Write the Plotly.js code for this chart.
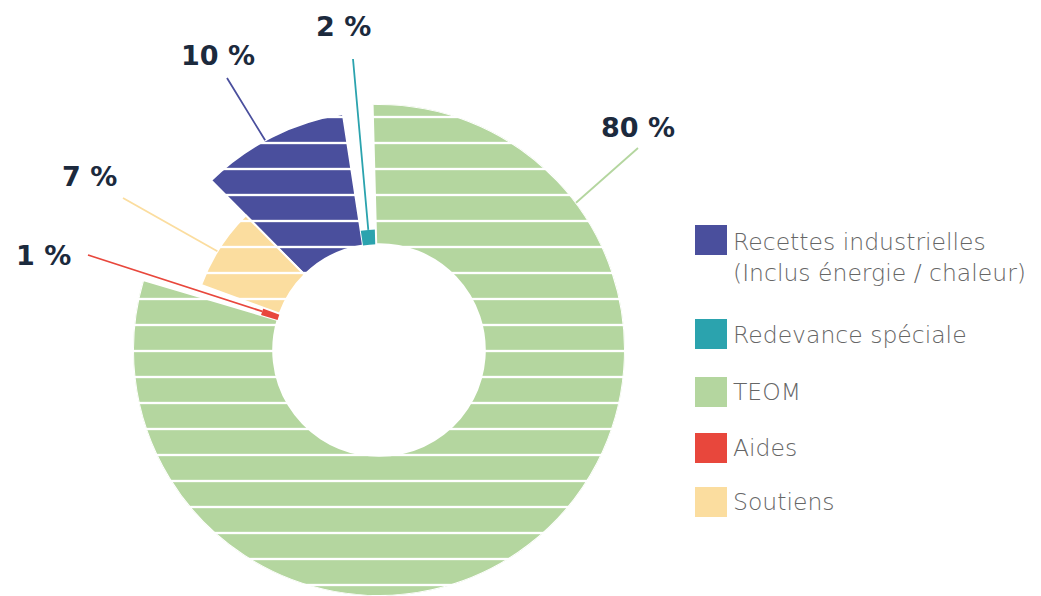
<!DOCTYPE html>
<html>
<head>
<meta charset="utf-8">
<script src="https://cdn.plot.ly/plotly-3.0.1.min.js"></script>
<style>
  html, body { margin: 0; padding: 0; background: #fff; }
  #graph { width: 1041px; height: 596px; }
</style>
</head>
<body>
<div id="graph"></div>
<script>
// data
const categories = ['Recettes industrielles', 'Redevance spéciale', 'TEOM', 'Aides', 'Soutiens'];
const legendLabels = ['Recettes industrielles<br>(Inclus énergie / chaleur)', 'Redevance spéciale', 'TEOM', 'Aides', 'Soutiens'];
const shares = [10, 2, 80, 1, 7];
const shareLabels = ['10 %', '2 %', '80 %', '1 %', '7 %'];
// outer radius of each slice, relative to the TEOM ring (= 100)
const outerRadius = [97, 49, 100, 50, 77];

const colors = ['#4a4f9d', '#2ba3ae', '#b4d69f', '#e8473c', '#fbdd9f'];
const textColor = '#1c2a3d';

const W = 1041, H = 596;
const holeRadius = 43;
const rotation = 134.7;            // where the first slice starts
const cx = 379, cy = 350, R = 246; // polar centre and radius in px

// where each leader line leaves its label (px), how the label sits on it,
// and where along its slice the line lands
const labelTail = [[227, 78], [353, 59], [638, 148], [88, 255], [123, 198]];
const labelAnchor = [['center', 'bottom'], ['center', 'bottom'], ['center', 'bottom'], ['right', 'middle'], ['right', 'bottom']];
const labelPad = [6, 16, 4, 16, 5];
const labelNudge = [2, 2, 0, 0, 0]; // trailing spaces pushing the text left of the line
const tipFrac = [0.45, 0.5, 0.19, 0.5, 0.45];

function px2paper(x, y) {
    return {x: x / W, y: 1 - y / H};
}

let cum = 0;
const traces = [];
const annotations = [];
const shapes = [];

categories.forEach((name, i) => {
    const width = shares[i] * 3.6;
    const start = cum;
    cum += width;

    const small = shares[i] < 5;
    traces.push({
        type: 'barpolar',
        name: name,
        r: [outerRadius[i] - holeRadius],
        base: [holeRadius],
        theta: [start + width / 2],
        width: [width],
        marker: {
            color: colors[i],
            line: {color: '#ffffff', width: small ? 0 : 2},
            pattern: small ? undefined : {shape: '-', fgcolor: '#ffffff', bgcolor: colors[i], size: 26, solidity: 0.09}
        },
        hovertemplate: name + ': ' + shares[i] + ' %<extra></extra>'
    });

    // leader line tip on the outer edge of the slice
    const a = (start + width * tipFrac[i] - (rotation - 90)) * Math.PI / 180;
    const rpx = R * outerRadius[i] / 100;
    const tx = cx + rpx * Math.sin(a);
    const ty = cy - rpx * Math.cos(a);
    const p = px2paper(tx, ty);
    annotations.push({
        x: p.x, y: p.y, xref: 'paper', yref: 'paper',
        text: '<b>' + shareLabels[i] + '&nbsp;'.repeat(labelNudge[i]) + '</b>',
        showarrow: true,
        arrowhead: 0,
        arrowwidth: 1.8,
        arrowcolor: colors[i],
        ax: labelTail[i][0] - tx,
        ay: labelTail[i][1] - ty,
        xanchor: labelAnchor[i][0],
        yanchor: labelAnchor[i][1],
        borderpad: labelPad[i],
        font: {family: 'DejaVu Sans, sans-serif', size: 27, color: textColor}
    });
});

// legend built by hand to get the large swatches
const legendRows = [240, 334, 392, 448, 502];
const legendTextY = [257, 335, 392, 448, 502];
legendLabels.forEach((label, i) => {
    const top = px2paper(695, legendRows[i] - 15);
    const bottom = px2paper(727, legendRows[i] + 15);
    shapes.push({
        type: 'rect', xref: 'paper', yref: 'paper',
        x0: top.x, x1: bottom.x, y0: bottom.y, y1: top.y,
        fillcolor: colors[i], line: {width: 0}
    });
    const t = px2paper(731, legendTextY[i]);
    annotations.push({
        x: t.x, y: t.y, xref: 'paper', yref: 'paper',
        xanchor: 'left', yanchor: 'middle', align: 'left',
        text: label, showarrow: false,
        font: {family: 'DejaVu Sans, sans-serif', size: 23.5, color: '#666666', weight: 200}
    });
});

const layout = {
    width: W,
    height: H,
    margin: {l: 0, r: 0, t: 0, b: 0},
    paper_bgcolor: '#ffffff',
    showlegend: false,
    polar: {
        domain: {x: [(cx - R) / W, (cx + R) / W], y: [0, 2 * R / H]},
        bgcolor: 'rgba(0,0,0,0)',
        radialaxis: {visible: false, range: [0, 100]},
        angularaxis: {visible: false, direction: 'clockwise', rotation: rotation}
    },
    annotations: annotations,
    shapes: shapes
};

Plotly.newPlot('graph', traces, layout, {displayModeBar: false});
</script>
</body>
</html>
